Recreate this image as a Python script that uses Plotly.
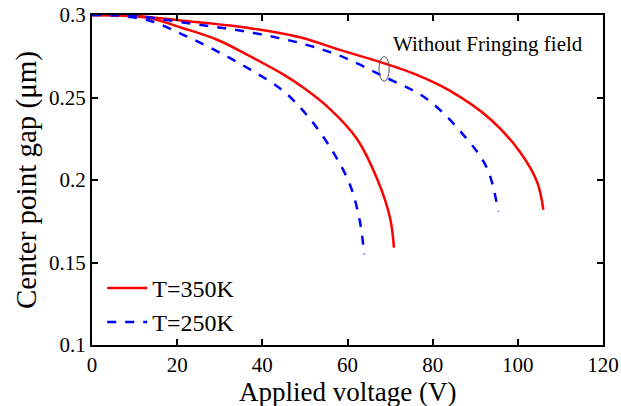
import plotly.graph_objects as go

# T=350K, with fringing (inner red)
v_350_in = [0, 5, 13.6, 21.4, 29.4, 37.1, 44.9, 49.6, 55.9, 62.2, 66.9, 70.0, 70.9]
g_350_in = [0.3, 0.2998, 0.298, 0.292, 0.285, 0.275, 0.264, 0.256, 0.243, 0.225, 0.201, 0.177, 0.159]
# T=250K, with fringing (inner blue)
v_250_in = [0, 5, 13.6, 21.4, 29.4, 37.1, 44.9, 51.2, 56.6, 60.6, 62.9, 63.9]
g_250_in = [0.3, 0.2997, 0.2965, 0.288, 0.278, 0.267, 0.254, 0.237, 0.217, 0.197, 0.175, 0.155]
# T=350K, without fringing (outer red)
v_350_out = [0, 10, 21.4, 37.1, 48.8, 58, 68.3, 76, 84.1, 93.5, 100.5, 104.5, 106]
g_350_out = [0.3, 0.2995, 0.2965, 0.292, 0.2865, 0.279, 0.271, 0.264, 0.254, 0.237, 0.217, 0.199, 0.182]
# T=250K, without fringing (outer blue)
v_250_out = [0, 10, 21.4, 37.1, 48.8, 58, 68.3, 78.7, 88, 92.8, 95.4]
g_250_out = [0.3, 0.2995, 0.2955, 0.2895, 0.283, 0.2755, 0.263, 0.249, 0.225, 0.207, 0.181]

x_ticks = [0, 20, 40, 60, 80, 100, 120]
y_ticks = [0.1, 0.15, 0.2, 0.25, 0.3]
y_tick_labels = ["0.1", "0.15", "0.2", "0.25", "0.3"]

RED = "#ff0000"
BLUE = "#0000ff"
FONT = "Liberation Serif"

fig = go.Figure()
fig.add_trace(go.Scatter(x=v_350_in, y=g_350_in, mode="lines", name="T=350K",
                         line=dict(color=RED, width=2.5, shape="spline", smoothing=1.0)))
fig.add_trace(go.Scatter(x=v_250_in, y=g_250_in, mode="lines", name="T=250K",
                         line=dict(color=BLUE, width=2.5, dash="dash", shape="spline", smoothing=1.0)))
fig.add_trace(go.Scatter(x=v_350_out, y=g_350_out, mode="lines", showlegend=False,
                         line=dict(color=RED, width=2.5, shape="spline", smoothing=1.0)))
fig.add_trace(go.Scatter(x=v_250_out, y=g_250_out, mode="lines", showlegend=False,
                         line=dict(color=BLUE, width=2.5, dash="dash", shape="spline", smoothing=1.0)))

fig.add_shape(type="circle", xref="x", yref="y", x0=67.4, x1=69.8, y0=0.2598, y1=0.2748,
              line=dict(color="#555555", width=1))
fig.add_annotation(x=70.3, y=0.2825, xref="x", yref="y", text="Without Fringing field",
                   showarrow=False, xanchor="left", yanchor="middle",
                   font=dict(family=FONT, size=21, color="black"))
# x-axis title placed below the tick labels
fig.add_annotation(x=0.5, y=-0.142, xref="paper", yref="paper", text="Applied voltage (V)",
                   showarrow=False, xanchor="center", yanchor="middle",
                   font=dict(family=FONT, size=27, color="black"))

axis_common = dict(showline=True, linecolor="black", linewidth=2, mirror="ticks",
                   ticks="inside", ticklen=6, tickwidth=1.5, tickcolor="black",
                   showgrid=False, zeroline=False, automargin=False,
                   tickfont=dict(family=FONT, size=21, color="black"))

fig.update_xaxes(range=[0, 120], tickvals=x_ticks, ticklabelstandoff=0, **axis_common)
fig.update_yaxes(range=[0.1, 0.3], tickvals=y_ticks, ticktext=y_tick_labels, ticklabelstandoff=0,
                 title=dict(text="Center point gap (μm)", font=dict(family=FONT, size=29, color="black"), standoff=4),
                 **axis_common)

fig.update_layout(
    width=621, height=406,
    margin=dict(l=92, r=18, t=15, b=61),
    plot_bgcolor="white", paper_bgcolor="white",
    legend=dict(x=0.02, y=0.24, xanchor="left", yanchor="top",
                font=dict(family=FONT, size=24, color="black"),
                bgcolor="rgba(0,0,0,0)", tracegroupgap=0, itemwidth=40),
)

fig.write_html("out.html")
